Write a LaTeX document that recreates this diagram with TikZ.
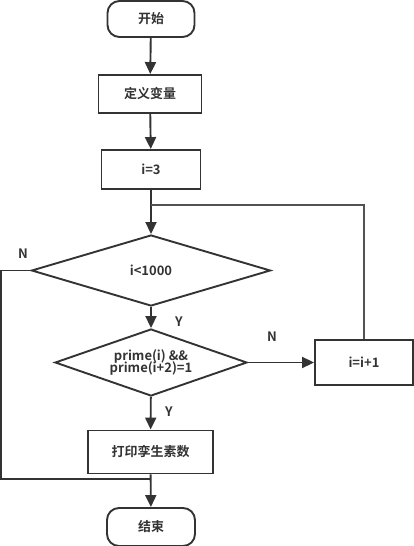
\documentclass[tikz,border=0pt]{standalone}
\usepackage{fontspec}
\setmainfont{Noto Sans CJK SC}[BoldFont={Noto Sans CJK SC Bold}]
\usetikzlibrary{shapes.geometric,arrows.meta}
\definecolor{ln}{HTML}{333333}
\tikzset{
  base/.style={draw=ln,line width=1.9pt,font=\bfseries\fontsize{13}{15}\selectfont,text=ln,inner sep=0pt,align=center},
  term/.style={base,rounded corners=12pt},
  proc/.style={base},
  dec/.style={base,diamond},
  conn/.style={draw=ln,line width=1.9pt},
  arr/.style={conn,-{Triangle[length=12pt,width=11pt]}},
  lbl/.style={font=\bfseries\fontsize{13}{14}\selectfont,text=ln}
}
\begin{document}
\begin{tikzpicture}[x=1pt,y=-1pt]
\useasboundingbox (0,0) rectangle (414,546);
\node[term,minimum width=87pt,minimum height=36pt] (start) at (151,19) {开始};
\node[proc,minimum width=103pt,minimum height=38pt] (def) at (150,94) {定义变量};
\node[proc,minimum width=99pt,minimum height=39pt] (i3) at (151,169.5) {i=3};
\node[dec,aspect=3.37,minimum width=239pt,minimum height=71pt] (d1) at (151,270.5) {i<1000};
\node[dec,aspect=2.87,minimum width=192pt,minimum height=67pt] (d2) at (151,362.5) {prime(i) \&\&\\[-3pt]prime(i+2)=1};
\node[proc,minimum width=98pt,minimum height=45pt] (inc) at (364,362.5) {i=i+1};
\node[proc,minimum width=125pt,minimum height=43pt] (print) at (150.5,452) {打印孪生素数};
\node[term,minimum width=88pt,minimum height=38pt] (end) at (151,527) {结束};
\coordinate (jt) at (151,205);
\coordinate (jr) at (364,205);
\coordinate (lt) at (1,270.5);
\coordinate (lb) at (1,479);
\coordinate (jb) at (151,479);
\draw[arr] (start) -- (def);
\draw[arr] (def) -- (i3);
\draw[arr] (i3) -- (d1);
\draw[arr] (d1) -- (d2);
\draw[arr] (d2) -- (print);
\draw[arr] (d2) -- (inc);
\draw[arr] (print) -- (end);
\draw[conn,line width=1.5pt,draw=ln!85] (inc.north) -- (jr) -- (jt);
\draw[conn] (d1.west) -- (lt) -- (lb) -- (jb);
\node[lbl] (n1) at (23,254) {N};
\node[lbl] (y1) at (179,322) {Y};
\node[lbl] (n2) at (272,337) {N};
\node[lbl] (y2) at (169,412) {Y};
\end{tikzpicture}
\end{document}
